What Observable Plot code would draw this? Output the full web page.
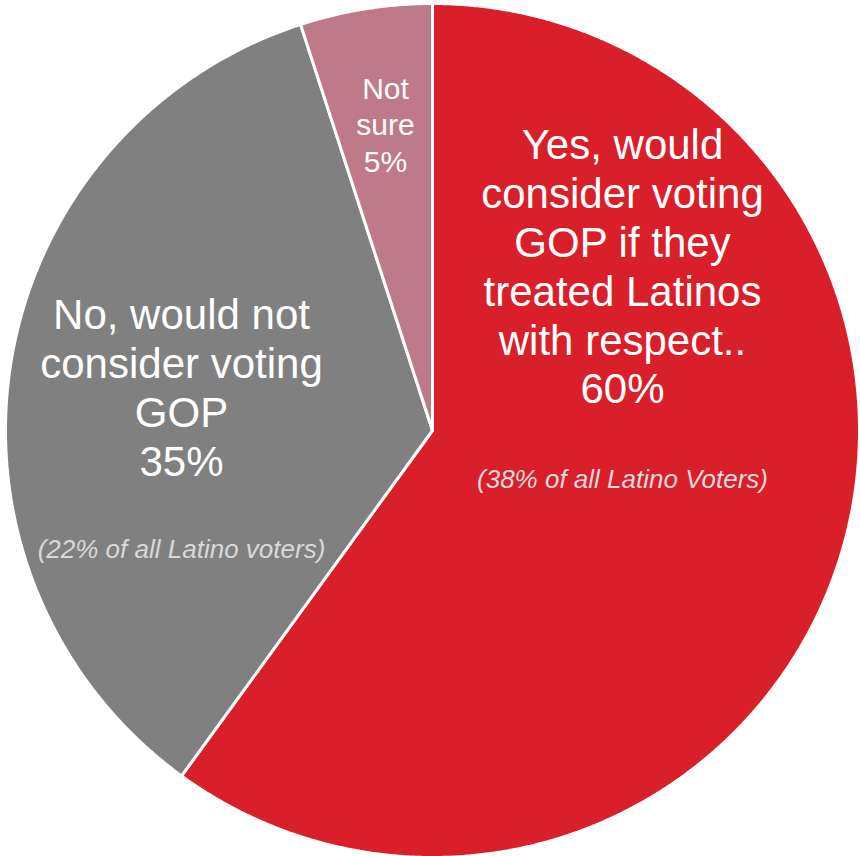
<!DOCTYPE html>
<html>
<head>
<meta charset="utf-8">
<script src="https://cdn.jsdelivr.net/npm/d3@7"></script>
<script src="https://cdn.jsdelivr.net/npm/@observablehq/plot@0.6"></script>
<style>
  html, body { margin: 0; padding: 0; background: #fff; }
  svg { display: block; }
</style>
</head>
<body>
<div id="chart"></div>
<script>
// ---- data ----
const categories = ["Yes", "No", "Not sure"];
const shares = [60, 35, 5];
const colors = ["#D9202A", "#808080", "#BF7A89"];
const labels = [
  "Yes, would\nconsider voting\nGOP if they\ntreated Latinos\nwith respect..\n60%",
  "No, would not\nconsider voting\nGOP\n35%",
  "Not\nsure\n5%"
];
const subLabels = ["(38% of all Latino Voters)", "(22% of all Latino voters)", ""];

// ---- layout ----
const W = 860, H = 856;
const cx = 432, cy = 430, R = 427;

const pie = d3.pie().sort(null).value(d => d.value)(
  categories.map((c, i) => ({ name: c, value: shares[i] }))
);

// slice outlines built from the pie angles
const slicePts = [];
pie.forEach(p => {
  const name = p.data.name;
  slicePts.push({ name, x: cx, y: cy });
  const n = Math.max(2, Math.ceil((p.endAngle - p.startAngle) / 0.005));
  for (let k = 0; k <= n; k++) {
    const a = p.startAngle + (p.endAngle - p.startAngle) * k / n;
    slicePts.push({ name, x: cx + R * Math.sin(a), y: cy - R * Math.cos(a) });
  }
});

// label anchors (layout)
const labelPos = [
  { x: 622, y: 265, size: 42, lh: 1.165 },
  { x: 181, y: 386, size: 42, lh: 1.165 },
  { x: 385, y: 123, size: 30, lh: 1.22 }
];
const subPos = [
  { x: 622, y: 479 },
  { x: 181, y: 549 }
];

const mainText = labels.map((t, i) => ({ text: t, ...labelPos[i] }));
const subText = subPos.map((p, i) => ({ text: subLabels[i], ...p }));

const chart = Plot.plot({
  width: W,
  height: H,
  margin: 0,
  style: { fontFamily: "'Liberation Sans', Arial, sans-serif", background: "#fff" },
  x: { domain: [0, W], range: [0, W], axis: null },
  y: { domain: [0, H], range: [0, H], axis: null },
  color: { domain: categories, range: colors },
  marks: [
    Plot.line(slicePts, {
      x: "x", y: "y", z: "name", fill: "name",
      stroke: "#fff", strokeWidth: 3, curve: "linear-closed", strokeLinejoin: "round"
    }),
    ...mainText.map(d => Plot.text([d], {
      x: "x", y: "y", text: "text", fill: "#fff",
      fontSize: d.size, lineHeight: d.lh, textAnchor: "middle", lineAnchor: "middle"
    })),
    Plot.text(subText, {
      x: "x", y: "y", text: "text", fill: "#D9D9D9",
      fontSize: 26, fontStyle: "italic", textAnchor: "middle", lineAnchor: "middle"
    })
  ]
});

document.getElementById("chart").appendChild(chart);
</script>
</body>
</html>
